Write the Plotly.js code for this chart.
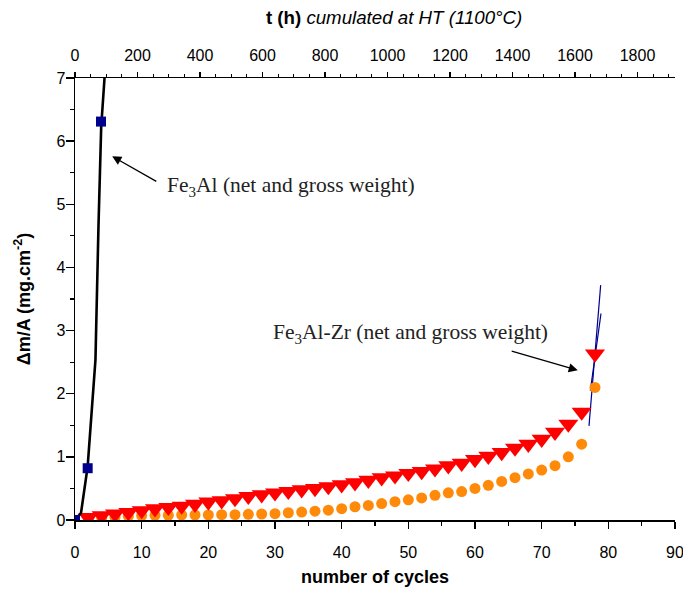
<!DOCTYPE html>
<html><head><meta charset="utf-8">
<script src="https://cdn.plot.ly/plotly-3.0.1.min.js"></script>
<style>html,body{margin:0;padding:0;background:#fff}#chart{width:683px;height:593px}</style>
</head><body><div id="chart"></div>
<script>
// Fe3Al (net and gross weight)
const fe3alLineX = [0, 0.9, 1.9, 2.52, 3.07, 3.52, 3.93, 4.43, 4.6];
const fe3alLineY = [0, 0.11, 0.85, 1.74, 2.54, 4.65, 6.23, 7.0, 7.3];
const fe3alPtsX = [0, 1.9, 3.9];
const fe3alPtsY = [0, 0.82, 6.31];

// Fe3Al-Zr
const zrCycles = [2,4,6,8,10,12,14,16,18,20,22,24,26,28,30,32,34,36,38,40,42,44,46,48,50,52,54,56,58,60,62,64,66,68,70,72,74,76,78];
const zrGross = [0.04,0.07,0.095,0.12,0.15,0.18,0.20,0.22,0.25,0.285,0.305,0.34,0.375,0.40,0.43,0.455,0.48,0.50,0.53,0.56,0.59,0.63,0.67,0.70,0.74,0.77,0.81,0.86,0.90,0.96,1.01,1.07,1.14,1.20,1.28,1.39,1.52,1.71,2.63];
const zrNet = [0.02,0.03,0.045,0.06,0.07,0.075,0.075,0.08,0.08,0.08,0.085,0.085,0.09,0.095,0.10,0.115,0.125,0.14,0.155,0.18,0.21,0.23,0.26,0.29,0.32,0.35,0.39,0.43,0.45,0.50,0.55,0.61,0.67,0.73,0.79,0.86,1.00,1.20,2.10];

// steep end segments
const endAX = [77.1, 78.85];
const endAY = [1.49, 3.72];
const endBX = [77.3, 78.9];
const endBY = [2.05, 3.27];

// axes
const cycleRange = [0, 90];
const hoursRange = [0, 1920];
const massRange = [0, 7];

const navy = '#00008f';
const traces = [
  {x: endAX, y: endAY, mode: 'lines', line: {color: navy, width: 1.2}, xaxis: 'x', yaxis: 'y'},
  {x: endBX, y: endBY, mode: 'lines', line: {color: navy, width: 1.2}},
  {x: zrCycles, y: zrNet, mode: 'markers', marker: {symbol: 'circle', size: 11, color: '#ff8a0a'}},
  {x: zrCycles, y: zrGross, mode: 'markers', marker: {symbol: 'triangle-down', size: 17.5, color: '#ff0000'}},
  {x: fe3alLineX, y: fe3alLineY, mode: 'lines', line: {color: '#000', width: 2.6}},
  {x: fe3alPtsX, y: fe3alPtsY, mode: 'markers', marker: {symbol: 'square', size: 10, color: navy}},
  {x: [], y: [], xaxis: 'x2', yaxis: 'y', mode: 'markers', hoverinfo: 'skip'}
];

const tickFont = {family: 'Liberation Sans, Arial, sans-serif', size: 16, color: '#000'};
const titleFont = {family: 'Liberation Sans, Arial, sans-serif', size: 18, color: '#000'};
const annFont = {family: 'Liberation Serif, Times New Roman, serif', size: 21.5, color: '#222'};

const layout = {
  width: 683, height: 593,
  margin: {l: 75, r: 8, t: 78, b: 73},
  paper_bgcolor: '#fff', plot_bgcolor: '#fff',
  showlegend: false,
  title: {text: '<b>t (h)</b> <i>cumulated at HT (1100°C)</i>', font: {family: 'Liberation Sans, Arial, sans-serif', size: 18.7, color: '#000'},
          xref: 'container', x: 0.577, xanchor: 'center', yref: 'container', y: 0.971, yanchor: 'middle'},
  xaxis: {
    range: cycleRange, dtick: 10, showgrid: false, zeroline: false,
    showline: true, linecolor: '#000', linewidth: 1.5,
    ticks: 'outside', ticklen: 7, tickwidth: 1.5, tickcolor: '#000',
    minor: {dtick: 5, ticks: 'outside', ticklen: 4, tickwidth: 1.2, tickcolor: '#000'},
    tickfont: tickFont, ticklabeloverflow: 'allow', ticklabelstandoff: 10,
    title: {text: '<b>number of cycles</b>', font: titleFont, standoff: 10}
  },
  xaxis2: {
    range: hoursRange, dtick: 200, overlaying: 'x', side: 'top', anchor: 'y',
    showgrid: false, zeroline: false,
    showline: true, linecolor: '#000', linewidth: 1.5,
    ticks: 'outside', ticklen: 5, tickwidth: 1.5, tickcolor: '#000',
    minor: {dtick: 50, ticks: 'outside', ticklen: 3, tickwidth: 1.2, tickcolor: '#000'},
    tickfont: tickFont, ticklabeloverflow: 'allow', ticklabelstandoff: 4
  },
  yaxis: {
    range: massRange, dtick: 1, showgrid: false, zeroline: false,
    showline: true, linecolor: '#000', linewidth: 1.5,
    ticks: 'outside', ticklen: 8, tickwidth: 1.5, tickcolor: '#000',
    minor: {dtick: 0.5, ticks: 'outside', ticklen: 4, tickwidth: 1.2, tickcolor: '#000'},
    tickfont: tickFont, ticklabeloverflow: 'allow', ticklabelstandoff: -3,
    title: {text: '<b>Δm/A (mg.cm<sup>-2</sup>)</b>', font: titleFont, standoff: 21}
  },
  annotations: [
    {x: 5.58, y: 5.76, ax: 12.42, ay: 5.35, axref: 'x', ayref: 'y', xref: 'x', yref: 'y',
     text: '', showarrow: true, arrowhead: 2, arrowsize: 1.4, arrowwidth: 1.3, arrowcolor: '#000'},
    {x: 13.55, y: 5.28, xref: 'x', yref: 'y', xanchor: 'left', yanchor: 'middle', showarrow: false,
     text: 'Fe<sub>3</sub>Al (net and gross weight)', font: annFont},
    {x: 75.42, y: 2.37, ax: 65.28, ay: 2.68, axref: 'x', ayref: 'y', xref: 'x', yref: 'y',
     text: '', showarrow: true, arrowhead: 2, arrowsize: 1.4, arrowwidth: 1.3, arrowcolor: '#000'},
    {x: 29.35, y: 2.96, xref: 'x', yref: 'y', xanchor: 'left', yanchor: 'middle', showarrow: false,
     text: 'Fe<sub>3</sub>Al-Zr (net and gross weight)', font: annFont}
  ]
};

Plotly.newPlot('chart', traces, layout, {staticPlot: true});
</script>
</body></html>
